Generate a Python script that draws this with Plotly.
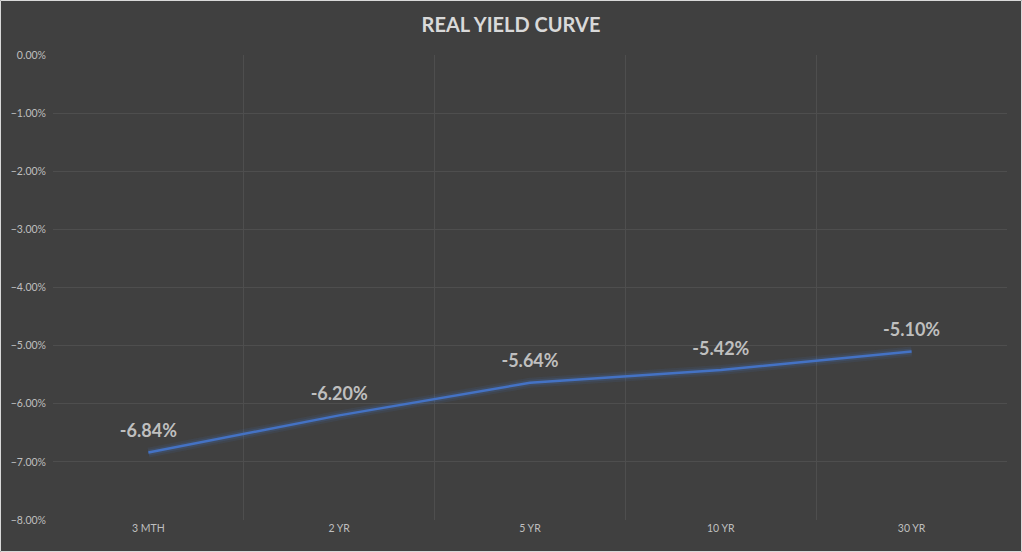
import plotly.graph_objects as go

categories = ["3 MTH", "2 YR", "5 YR", "10 YR", "30 YR"]
yields = [-0.0684, -0.0620, -0.0564, -0.0542, -0.0510]
labels = ["-6.84%", "-6.20%", "-5.64%", "-5.42%", "-5.10%"]
y_ticks = [0, -0.01, -0.02, -0.03, -0.04, -0.05, -0.06, -0.07, -0.08]

W, H = 1022, 552
ml, mr, mt, mb = 53, 15, 55, 32
pw, ph = W - ml - mr, H - mt - mb

xpos = [i + 0.5 for i in range(len(categories))]

fig = go.Figure()
# glow
for w, a in [(10, 0.10), (6, 0.18)]:
    fig.add_trace(go.Scatter(x=xpos, y=yields, mode="lines",
                             line=dict(color=f"rgba(68,114,196,{a})", width=w),
                             hoverinfo="skip", showlegend=False))
fig.add_trace(go.Scatter(
    x=xpos, y=yields, mode="lines+markers+text", text=[f"<b>{t}</b>" for t in labels],
    textposition="top center",
    marker=dict(size=16, color="rgba(0,0,0,0)"),
    textfont=dict(family="Lato, Open Sans, sans-serif", size=18, color="#bfbfbf"),
    line=dict(color="#4472C4", width=2.5), showlegend=False))

fig.update_layout(
    width=W, height=H,
    margin=dict(l=ml, r=mr, t=mt, b=mb),
    paper_bgcolor="#404040", plot_bgcolor="#404040",
    title=dict(text="<b>REAL YIELD CURVE</b>", x=0.5, xanchor="center", y=1 - 25 / H, yanchor="middle",
               font=dict(family="Lato, Open Sans, sans-serif", size=20, color="#d9d9d9")),
    font=dict(family="Lato, Open Sans, sans-serif", color="#bfbfbf"),
    xaxis=dict(range=[0, 5], tickvals=xpos, ticktext=categories, showgrid=False,
               zeroline=False, showline=False, ticks="", tickfont=dict(size=10.5, color="#bfbfbf"),
               minor=dict(tickvals=list(range(6)), showgrid=True, gridcolor="#4e4e4e", gridwidth=1, ticks=""),
               fixedrange=True),
    yaxis=dict(range=[-0.08, 0], tickvals=y_ticks, tickformat=".2%", showgrid=True,
               gridcolor="#4e4e4e", gridwidth=1, zeroline=False, ticks="",
               tickfont=dict(size=10.5, color="#bfbfbf"), ticklabelstandoff=6, fixedrange=True),
    shapes=[dict(type="rect", xref="paper", yref="paper",
                 x0=(-ml + 0.5) / pw, x1=(pw + mr - 0.5) / pw,
                 y0=(-mb + 0.5) / ph, y1=(ph + mt - 0.5) / ph,
                 line=dict(color="#d9d9d9", width=1), layer="above")],
)
fig.write_html("out.html")
